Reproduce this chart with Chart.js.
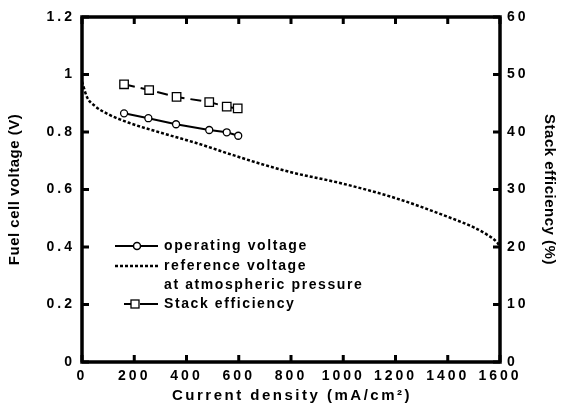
<!DOCTYPE html>
<html>
<head>
<meta charset="utf-8">
<script src="https://cdn.jsdelivr.net/npm/chart.js@4/dist/chart.umd.min.js"></script>
<style>
html,body{margin:0;padding:0;background:#fff;}
canvas{display:block;}
</style>
</head>
<body>
<canvas id="c" width="563" height="412"></canvas>
<script>
// ---- data ----
const opCurrent = [161, 254, 360, 487, 554, 598];           // mA/cm2
const opVoltage = [0.865, 0.848, 0.827, 0.807, 0.799, 0.787]; // V

const effCurrent = [161, 257, 362, 487, 554, 596];          // mA/cm2
const effValues = [48.3, 47.3, 46.1, 45.2, 44.4, 44.1];     // %

const refCurrent = [0, 5, 20, 50, 100, 180, 300, 440, 570, 700, 800, 1000, 1200, 1400, 1500, 1550, 1590, 1600];
const refVoltage = [0.975, 0.96, 0.92, 0.89, 0.862, 0.832, 0.798, 0.761, 0.722, 0.685, 0.66, 0.62, 0.57, 0.505, 0.468, 0.443, 0.415, 0.40];

const xTicks = [0, 200, 400, 600, 800, 1000, 1200, 1400, 1600];
const yTicks = [0, 0.2, 0.4, 0.6, 0.8, 1, 1.2];
const y2Ticks = [0, 10, 20, 30, 40, 50, 60];

const xTitle = 'Current density (mA/cm\u00B2)';
const yTitle = 'Fuel cell voltage (V)';
const y2Title = 'Stack efficiency (%)';
const legendLabels = ['operating voltage', 'reference voltage', 'at atmospheric pressure', 'Stack efficiency'];

const FONT = '"Liberation Sans", Arial, sans-serif';

function pts(xs, ys){ return xs.map((x,i)=>({x:x, y:ys[i]})); }
function plain(v){ return String(Math.round(v*100)/100); }

const framePlugin = {
  id: 'frame',
  beforeDraw(chart){
    chart.ctx.letterSpacing = '3px';
  },
  afterDraw(chart){
    const ctx = chart.ctx;
    const a = chart.chartArea;
    const sx = chart.scales.x, sy = chart.scales.y, sy2 = chart.scales.y2;
    ctx.save();
    ctx.letterSpacing = '0px';
    ctx.strokeStyle = '#000';
    ctx.lineWidth = 3.5;
    ctx.lineCap = 'butt';
    ctx.strokeRect(a.left, a.top, a.right - a.left, a.bottom - a.top);
    const tl = 7;
    ctx.lineWidth = 3;
    ctx.beginPath();
    xTicks.forEach(v=>{
      const px = sx.getPixelForValue(v);
      ctx.moveTo(px, a.bottom); ctx.lineTo(px, a.bottom - tl);
      ctx.moveTo(px, a.top); ctx.lineTo(px, a.top + tl);
    });
    yTicks.forEach(v=>{
      const py = sy.getPixelForValue(v);
      ctx.moveTo(a.left, py); ctx.lineTo(a.left + tl, py);
    });
    y2Ticks.forEach(v=>{
      const py = sy2.getPixelForValue(v);
      ctx.moveTo(a.right, py); ctx.lineTo(a.right - tl, py);
    });
    ctx.stroke();

    // axis titles
    ctx.fillStyle = '#000';
    ctx.textBaseline = 'middle';
    ctx.textAlign = 'center';
    const cy = (a.top + a.bottom) / 2;
    ctx.font = 'bold 15px ' + FONT;
    ctx.letterSpacing = '0.5px';
    ctx.save();
    ctx.translate(15, cy);
    ctx.rotate(-Math.PI/2);
    ctx.fillText(yTitle, 0, 0);
    ctx.restore();
    ctx.save();
    ctx.translate(549, cy);
    ctx.rotate(Math.PI/2);
    ctx.fillText(y2Title, 0, 0);
    ctx.restore();
    ctx.letterSpacing = '2.5px';
    ctx.fillText(xTitle, (a.left + a.right)/2 + 1, 396);

    // legend
    ctx.font = 'bold 14px ' + FONT;
    ctx.letterSpacing = '1.6px';
    ctx.textAlign = 'left';
    const tx = 164;
    const rows = [246, 266, 285, 304];
    // operating voltage
    ctx.lineWidth = 2;
    ctx.setLineDash([]);
    ctx.beginPath(); ctx.moveTo(115, rows[0]); ctx.lineTo(158, rows[0]); ctx.stroke();
    ctx.beginPath(); ctx.arc(137, rows[0], 3.5, 0, Math.PI*2);
    ctx.fillStyle = '#fff'; ctx.fill(); ctx.lineWidth = 1.5; ctx.stroke();
    ctx.fillStyle = '#000';
    ctx.fillText(legendLabels[0], tx, rows[0]);
    // reference
    ctx.lineWidth = 2.5;
    ctx.setLineDash([3, 2]);
    ctx.beginPath(); ctx.moveTo(115, rows[1]); ctx.lineTo(158, rows[1]); ctx.stroke();
    ctx.setLineDash([]);
    ctx.fillText(legendLabels[1], tx, rows[1]);
    ctx.fillText(legendLabels[2], tx, rows[2]);
    // efficiency
    ctx.lineWidth = 2;
    ctx.beginPath(); ctx.moveTo(124, rows[3]); ctx.lineTo(131, rows[3]);
    ctx.moveTo(140, rows[3]); ctx.lineTo(158, rows[3]); ctx.stroke();
    ctx.fillStyle = '#fff';
    ctx.fillRect(131, rows[3]-4, 8, 8);
    ctx.lineWidth = 1.3;
    ctx.strokeRect(131, rows[3]-4, 8, 8);
    ctx.fillStyle = '#000';
    ctx.fillText(legendLabels[3], tx, rows[3]);
    ctx.restore();
  }
};

const tickFont = {family: FONT, size: 14, weight: 'bold'};

new Chart(document.getElementById('c'), {
  type: 'scatter',
  data: {
    datasets: [
      {
        label: 'reference voltage at atmospheric pressure',
        data: pts(refCurrent, refVoltage),
        yAxisID: 'y',
        showLine: true,
        borderColor: '#000',
        borderWidth: 2.5,
        borderDash: [3, 2],
        pointRadius: 0,
        cubicInterpolationMode: 'monotone',
        fill: false
      },
      {
        label: 'operating voltage',
        data: pts(opCurrent, opVoltage),
        yAxisID: 'y',
        showLine: true,
        borderColor: '#000',
        borderWidth: 2,
        pointStyle: 'circle',
        pointRadius: 3.5,
        pointBorderWidth: 1.3,
        pointBackgroundColor: '#fff',
        pointBorderColor: '#000',
        fill: false
      },
      {
        label: 'Stack efficiency',
        data: pts(effCurrent, effValues),
        yAxisID: 'y2',
        showLine: true,
        borderColor: '#000',
        borderWidth: 2,
        borderDash: [11, 6],
        pointStyle: 'rect',
        pointRadius: 6,
        pointBorderWidth: 1.3,
        pointBackgroundColor: '#fff',
        pointBorderColor: '#000',
        fill: false
      }
    ]
  },
  options: {
    responsive: false,
    animation: false,
    layout: {padding: {top: 17, left: 0, right: 0, bottom: 0}},
    plugins: {legend: {display: false}, tooltip: {enabled: false}},
    scales: {
      x: {
        type: 'linear', min: 0, max: 1600,
        afterBuildTicks(s){ s.ticks = xTicks.map(v=>({value:v})); },
        afterFit(s){ s.height = 50; },
        grid: {display: false, drawTicks: false},
        border: {display: false},
        ticks: {font: tickFont, color: '#000', padding: 6, maxRotation: 0, autoSkip: false, callback: plain}
      },
      y: {
        type: 'linear', position: 'left', min: 0, max: 1.2,
        afterBuildTicks(s){ s.ticks = yTicks.map(v=>({value:v})); },
        afterFit(s){ s.width = 82; },
        grid: {display: false, drawTicks: false},
        border: {display: false},
        ticks: {font: tickFont, color: '#000', padding: 7, autoSkip: false, callback: plain}
      },
      y2: {
        type: 'linear', position: 'right', min: 0, max: 60,
        afterBuildTicks(s){ s.ticks = y2Ticks.map(v=>({value:v})); },
        afterFit(s){ s.width = 63; },
        grid: {display: false, drawTicks: false},
        border: {display: false},
        ticks: {font: tickFont, color: '#000', padding: 7, autoSkip: false, callback: plain}
      }
    }
  },
  plugins: [framePlugin]
});
</script>
</body>
</html>
